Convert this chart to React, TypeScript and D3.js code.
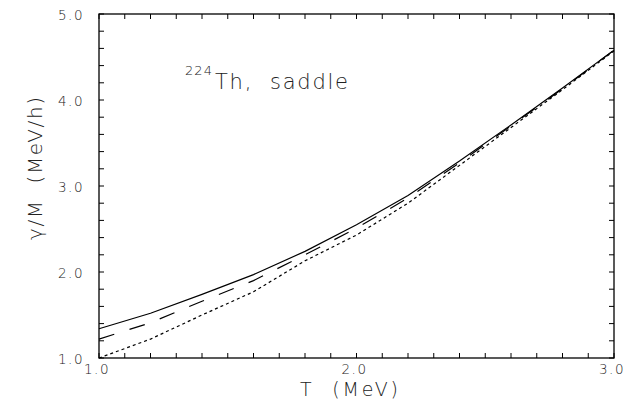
import React from "react";
import * as d3 from "d3";

const temperatures = [1.0, 1.2, 1.4, 1.6, 1.8, 2.0, 2.2, 2.4, 2.6, 2.8, 3.0];
const solidSeries = [1.34, 1.52, 1.74, 1.97, 2.24, 2.55, 2.89, 3.29, 3.71, 4.14, 4.58];
const dashedSeries = [1.22, 1.41, 1.66, 1.9, 2.2, 2.51, 2.86, 3.27, 3.7, 4.13, 4.58];
const dottedSeries = [1.0, 1.22, 1.5, 1.77, 2.13, 2.43, 2.8, 3.24, 3.68, 4.12, 4.57];
const xTickLabels = ["1.0", "2.0", "3.0"];
const yTickLabels = ["1.0", "2.0", "3.0", "4.0", "5.0"];

const W = 640;
const H = 412;
const M = { left: 99, right: 614, top: 14, bottom: 358 };
const FONT = "'DejaVu Sans', 'Liberation Sans', sans-serif";

export default function App() {
  const x = d3.scaleLinear().domain([1, 3]).range([M.left, M.right]);
  const y = d3.scaleLinear().domain([1, 5]).range([M.bottom, M.top]);
  const line = d3
    .line<number>()
    .x((_, i) => x(temperatures[i]))
    .y((d) => y(d));

  const xMinor = d3.range(0, 21).map((i) => 1 + i * 0.1);
  const yMinor = d3.range(0, 21).map((i) => 1 + i * 0.2);
  const tl = 5;

  return (
    <svg
      width={W}
      height={H}
      style={{ position: "absolute", left: 0, top: 0, background: "#fff" }}
      fontFamily={FONT}
    >
      <rect x={0} y={0} width={W} height={H} fill="#fff" />
      {/* series */}
      <g fill="none" stroke="#000" strokeWidth={1.2}>
        <path d={line(solidSeries) || ""} />
        <path d={line(dashedSeries) || ""} strokeDasharray="16,16" />
        <path d={line(dottedSeries) || ""} strokeDasharray="3,3" />
      </g>
      {/* frame */}
      <rect
        x={M.left}
        y={M.top}
        width={M.right - M.left}
        height={M.bottom - M.top}
        fill="none"
        stroke="#000"
        strokeWidth={1.3}
      />
      {/* ticks */}
      <g stroke="#000" strokeWidth={1}>
        {xMinor.map((v, i) => (
          <g key={"xt" + i}>
            <line x1={x(v)} x2={x(v)} y1={M.bottom} y2={M.bottom - tl} />
            <line x1={x(v)} x2={x(v)} y1={M.top} y2={M.top + tl} />
          </g>
        ))}
        {yMinor.map((v, i) => (
          <g key={"yt" + i}>
            <line x1={M.left} x2={M.left + tl} y1={y(v)} y2={y(v)} />
            <line x1={M.right} x2={M.right - tl} y1={y(v)} y2={y(v)} />
          </g>
        ))}
      </g>
      {/* tick labels */}
      <g fontSize={13.5} fill="#222" fontWeight={300} letterSpacing={1.5}>
        {xTickLabels.map((s) => (
          <text key={"xl" + s} x={x(+s) - 2} y={374} textAnchor="middle">
            {s}
          </text>
        ))}
        {yTickLabels.map((s) => (
          <text key={"yl" + s} x={84} y={y(+s) + 6} textAnchor="end">
            {s}
          </text>
        ))}
      </g>
      {/* axis titles */}
      <text
        x={300}
        y={396}
        fontSize={19}
        fill="#222"
        fontWeight={300}
        textLength={98}
        lengthAdjust="spacing"
        style={{ whiteSpace: "pre" }}
      >
        T  (MeV)
      </text>
      <text
        transform="translate(42,240) rotate(-90)"
        x={0}
        y={0}
        fontSize={20}
        fill="#222"
        fontWeight={300}
        textLength={143}
        lengthAdjust="spacing"
        style={{ whiteSpace: "pre" }}
      >
        γ/M  (MeV/h)
      </text>
      {/* annotation */}
      <text x={185} y={75} fontSize={13} fill="#222" fontWeight={300} textLength={27} lengthAdjust="spacing">
        224
      </text>
      <text
        x={215}
        y={89}
        fontSize={21}
        fill="#222"
        fontWeight={300}
        textLength={133}
        lengthAdjust="spacing"
        style={{ whiteSpace: "pre" }}
      >
        Th,  saddle
      </text>
    </svg>
  );
}
